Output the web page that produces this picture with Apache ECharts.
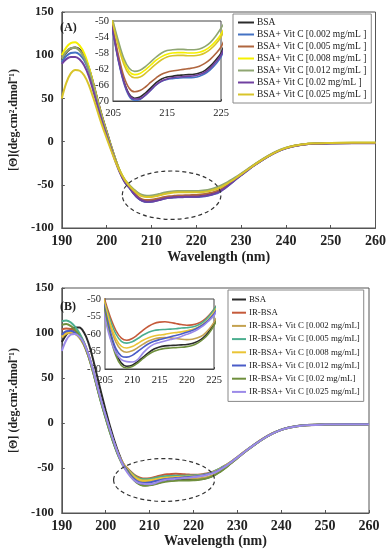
<!DOCTYPE html>
<html>
<head>
<meta charset="utf-8">
<script src="https://cdn.jsdelivr.net/npm/echarts@6/dist/echarts.min.js"></script>
<style>
html,body{margin:0;padding:0;background:#fff;}
#c{width:389px;height:550px;}
</style>
</head>
<body>
<div id="c"></div>
<script>
// Wavelength grid (nm)
const WL = [190,191,192,193,194,195,196,197,198,199,200,201,202,203,204,205,206,207,208,209,210,211,212,213,214,215,216,217,218,219,220,221,222,223,224,225,226,227,228,229,230,232,234,236,238,240,242,245,250,255,260];

// Panel A
const A_NAMES = ['BSA','BSA+ Vit C [0.002 mg/mL ]','BSA+ Vit C [0.005 mg/mL ]','BSA+ Vit C [0.008 mg/mL ]','BSA+ Vit C [0.012 mg/mL ]','BSA+ Vit C [0.02 mg/mL ]','BSA+ Vit C [0.025 mg/mL ]'];
const A_COLORS = ['#2b2b2b','#4472C4','#B0663F','#F5F000','#8FA672','#7040A0','#D8C42A'];
const A_BSA = [95,103,107.5,109,106.5,99,86,68,48,29,12,-5,-21,-35,-46,-52.5,-59.5,-65,-68.3,-69.3,-69,-68,-66.7,-65.4,-64.5,-64,-63.8,-63.6,-63.5,-63.4,-63.3,-63,-62.4,-61.3,-59.8,-58,-54.5,-50.5,-46.5,-42.3,-38.3,-30.5,-23.5,-17,-11.5,-7.5,-4.8,-2.6,-1.8,-1.5,-1.5];
const A_002 = [92,99,102.5,103,100.5,94,82,64.5,45.5,27.5,11,-6,-21.5,-35.5,-46.5,-53,-60,-65.5,-68.8,-69.8,-69.6,-68.6,-67.3,-66,-65.1,-64.6,-64.4,-64.3,-64.2,-64.2,-64.1,-63.8,-63.2,-62.2,-60.8,-59,-55.5,-51.5,-47.3,-43,-39,-31,-24,-17.5,-12,-7.8,-5,-2.8,-2,-1.7,-1.7];
const A_005 = [97,104,108,108.5,105.5,98,85,67,47,28,11,-6,-21.5,-35,-45.5,-52,-58.5,-63.8,-66.8,-67.7,-67.4,-66.5,-65.3,-64.2,-63.3,-62.8,-62.5,-62.3,-62.1,-61.9,-61.7,-61.3,-60.6,-59.6,-58.2,-56.5,-53.5,-50,-46.2,-42.2,-38.3,-30.6,-23.5,-17,-11.5,-7.5,-4.8,-2.7,-1.8,-1.5,-1.5];
const A_008 = [100,109,114,115,111,102,87,67,46.5,27.5,10.5,-6,-21,-34,-43.5,-50.3,-55.5,-60,-62.6,-63.4,-63.1,-62.2,-61,-59.8,-58.9,-58.3,-58,-57.9,-57.9,-58,-58,-57.8,-57.3,-56.4,-55.1,-53.3,-50.8,-48,-44.8,-41.3,-37.8,-30.3,-23.2,-16.8,-11.3,-7.3,-4.6,-2.5,-1.5,-1.2,-1.2];
const A_012 = [96,104,108,108.5,105,97,83.5,65,45,26.5,9.5,-6.5,-21.5,-34.5,-43.8,-50,-55,-59.3,-61.8,-62.6,-62.3,-61.4,-60.2,-59,-58,-57.4,-57.2,-57.1,-57.1,-57.2,-57.2,-57,-56.4,-55.4,-53.8,-51.8,-49.5,-46.8,-43.8,-40.5,-37,-29.8,-22.8,-16.5,-11.2,-7.2,-4.5,-2.4,-1.5,-1.2,-1.2];
const A_02  = [90,95.5,98,98,95,88,76,59,40.5,23,7,-8.5,-23.5,-36.5,-46.5,-52.8,-59.8,-65.2,-68.5,-69.5,-69.4,-68.5,-67.2,-65.9,-65,-64.5,-64.2,-64,-63.9,-63.8,-63.7,-63.4,-62.8,-61.8,-60.3,-58.5,-55.3,-51.3,-47.2,-43,-39,-31,-24,-17.5,-12,-7.8,-5,-2.8,-2,-1.8,-1.8];
const A_025 = [50,68,79,83,82,76.5,66,51,34.5,18.5,4,-10,-23.5,-35,-44,-50.8,-56.3,-60.8,-63.4,-64.2,-64,-63.1,-61.9,-60.7,-59.7,-59,-58.7,-58.6,-58.6,-58.7,-58.7,-58.5,-58,-57.1,-55.8,-54,-51.3,-48.4,-45.1,-41.6,-38,-30.5,-23.4,-17,-11.5,-7.4,-4.7,-2.6,-1.6,-1.3,-1.3];
const A_VALUES = [A_BSA,A_002,A_005,A_008,A_012,A_02,A_025];

// Panel B
const B_NAMES = ['BSA','IR-BSA','IR-BSA+ Vit C [0.002 mg/mL]','IR-BSA+ Vit C [0.005 mg/mL]','IR-BSA+ Vit C [0.008 mg/mL]','IR-BSA+ Vit C [0.012 mg/mL]','IR-BSA+ Vit C [0.02 mg/mL]','IR-BSA+ Vit C [0.025 mg/mL]'];
const B_COLORS = ['#2b2b2b','#C55A3A','#C4A250','#4BAE8F','#EAC435','#4A5CC8','#6F8F3D','#9B8AE8'];
const B_BSA = [90,98,103,106,106,101,90,73,53,33,14,-4,-20,-34,-45.5,-53,-60,-65.2,-68.3,-69.2,-68.9,-67.9,-66.6,-65.3,-64.3,-63.7,-63.4,-63.3,-63.2,-63.1,-63,-62.7,-62.1,-61.1,-59.4,-57,-54,-50.6,-46.8,-42.8,-38.8,-31,-23.8,-17.2,-11.7,-7.6,-4.9,-2.7,-1.9,-1.8,-1.8];
const B_IR  = [104,105,104.5,102.5,98,90,77.5,60.5,41.5,23,6,-10,-24.5,-36.5,-45,-50.5,-55.3,-59,-61.2,-61.8,-61.3,-60.2,-58.9,-57.8,-57,-56.6,-56.5,-56.7,-57,-57.3,-57.5,-57.4,-57,-56.2,-54.8,-52.9,-50.6,-47.8,-44.8,-41.4,-37.8,-30.4,-23.3,-16.9,-11.4,-7.4,-4.7,-2.5,-1.6,-1.4,-1.4];
const B_002 = [95,99,100,99,95,87,75,59,41,23,6.5,-9.5,-24,-36.5,-46,-52,-58,-62.3,-64.6,-65.2,-64.8,-63.9,-62.9,-62,-61.4,-61.1,-61,-61.1,-61.3,-61.5,-61.6,-61.5,-61.1,-60.3,-58.8,-56.7,-53.8,-50.5,-46.8,-42.8,-38.8,-31,-23.8,-17.2,-11.7,-7.6,-4.9,-2.7,-1.8,-1.6,-1.6];
const B_005 = [113,114,112,107,100,90,76.5,59.5,40.5,22,5,-11,-25.5,-37.5,-46,-51.3,-56.2,-60,-62.1,-62.6,-62.2,-61.3,-60.3,-59.5,-59,-58.8,-58.7,-58.6,-58.5,-58.3,-58.2,-58,-57.5,-56.6,-55.1,-53,-50.7,-48,-45,-41.6,-38,-30.6,-23.5,-17,-11.5,-7.5,-4.8,-2.6,-1.7,-1.5,-1.5];
const B_008 = [96,100,101,99.5,95,87.5,75.5,59.5,41.5,23.5,7,-9,-23.5,-36,-45.5,-51.5,-57.2,-61.3,-63.5,-64,-63.6,-62.7,-61.8,-61.1,-60.6,-60.3,-60.1,-59.8,-59.6,-59.4,-59.1,-58.7,-58.1,-57.2,-55.8,-53.8,-51.3,-48.4,-45.2,-41.7,-38.1,-30.7,-23.6,-17.1,-11.6,-7.5,-4.8,-2.6,-1.7,-1.5,-1.5];
const B_012 = [98,102,102.5,100.5,96,88.5,76.5,60.5,42,24,7.5,-8.5,-23.5,-36.5,-46.5,-53,-59.5,-64.2,-66.3,-66.6,-66.1,-65,-63.8,-62.8,-62.1,-61.6,-61.2,-60.8,-60.4,-60,-59.5,-59,-58.3,-57.3,-56,-54.3,-51.8,-48.8,-45.5,-42,-38.3,-30.8,-23.7,-17.1,-11.6,-7.5,-4.8,-2.6,-1.7,-1.5,-1.5];
const B_02  = [109,110,108,103.5,97,88,75,58.5,40,22,5.5,-10.5,-25,-38,-48,-54,-61,-66.2,-69,-69.7,-69.3,-68.3,-67,-65.8,-64.9,-64.4,-64.1,-64,-63.9,-63.8,-63.6,-63.3,-62.6,-61.5,-59.9,-57.6,-54.5,-51,-47.1,-43,-39,-31.2,-24,-17.4,-11.8,-7.7,-5,-2.8,-2,-1.9,-1.9];
const B_025 = [80,92,98,99,96,89,77,61,42.5,24.5,8,-8,-23,-36.5,-47.5,-55.5,-61.5,-65.3,-67.3,-67.9,-68,-67.3,-65.4,-63.9,-62.9,-62.4,-62,-61.6,-61.2,-60.7,-60.1,-59.5,-58.7,-57.7,-56.3,-54.7,-52.2,-49.2,-45.8,-42.2,-38.5,-30.9,-23.8,-17.2,-11.7,-7.6,-4.9,-2.7,-1.8,-1.6,-1.6];
const B_VALUES = [B_BSA,B_IR,B_002,B_005,B_008,B_012,B_02,B_025];

// Axis ticks
const MAIN_X = {min:190, max:260, step:10};
const MAIN_Y = {min:-100, max:150, step:50};
const INSET_A_X = {min:205, max:225, step:10};
const INSET_A_Y = {min:-70, max:-50, step:4};
const INSET_B_X = {min:205, max:225, step:5};
const INSET_B_Y = {min:-70, max:-50, step:5};

// Dashed ellipse annotations (data coords: centre and extents)
const ELL_A = {cx:214.5, cy:-62, x1:225.5, y1:-34};
const ELL_B = {cx:213.3, cy:-63.3, x1:224.8, y1:-39.5};

const SERIF = 'Liberation Serif';
const chart = echarts.init(document.getElementById('c'), null, {renderer:'canvas'});

function pairs(vals){ return WL.map((x,i)=>[x, vals[i]]); }
function mk(name,color,vals,idx,w){
  return {type:'line', name:name, xAxisIndex:idx, yAxisIndex:idx, data:pairs(vals),
    showSymbol:false, symbol:'none', smooth:0.35, clip:true, animation:false,
    lineStyle:{color:color, width:w}, itemStyle:{color:color}, z: idx>=2?5:2};
}
function mainX(gi, gap){
  return {gridIndex:gi, type:'value', min:MAIN_X.min, max:MAIN_X.max, interval:MAIN_X.step,
    axisLine:{onZero:false, lineStyle:{color:'#555', width:1}}, axisTick:{show:true, inside:true, length:3, lineStyle:{color:'#555'}},
    splitLine:{show:false},
    axisLabel:{color:'#222', fontFamily:SERIF, fontWeight:'bold', fontSize:14, margin:6},
    name:'Wavelength (nm)', nameLocation:'middle', nameGap:gap,
    nameTextStyle:{color:'#222', fontFamily:SERIF, fontWeight:'bold', fontSize:14}};
}
function mainY(gi, name){
  return {gridIndex:gi, type:'value', min:MAIN_Y.min, max:MAIN_Y.max, interval:MAIN_Y.step,
    axisLine:{show:true, onZero:false, lineStyle:{color:'#555', width:1}}, axisTick:{show:true, inside:true, length:3, lineStyle:{color:'#555'}},
    splitLine:{show:false},
    axisLabel:{color:'#222', fontFamily:SERIF, fontWeight:'bold', fontSize:12.5, margin:8},
    name:name, nameLocation:'middle', nameGap:30,
    nameTextStyle:{color:'#222', fontFamily:SERIF, fontWeight:'bold', fontSize:12}};
}
function insetX(gi, t, m){
  return {gridIndex:gi, type:'value', min:t.min, max:t.max, interval:t.step,
    axisLine:{onZero:false, lineStyle:{color:'#444'}}, axisTick:{show:true, inside:true, length:2, lineStyle:{color:'#444'}},
    splitLine:{show:false},
    axisLabel:{color:'#222', fontFamily:SERIF, fontSize:10.5, margin:m}};
}
function insetY(gi, t){
  return {gridIndex:gi, type:'value', min:t.min, max:t.max, interval:t.step,
    axisLine:{show:true, onZero:false, lineStyle:{color:'#444'}}, axisTick:{show:true, inside:true, length:2, lineStyle:{color:'#444'}},
    splitLine:{show:false},
    axisLabel:{color:'#222', fontFamily:SERIF, fontSize:10.5, margin:4}};
}

const series = [];
A_NAMES.forEach((n,i)=>series.push(mk(n, A_COLORS[i], A_VALUES[i], 0, 2)));
B_NAMES.forEach((n,i)=>series.push(mk(n, B_COLORS[i], B_VALUES[i], 1, 2)));
A_NAMES.forEach((n,i)=>series.push(mk(n, A_COLORS[i], A_VALUES[i], 2, 1.6)));
B_NAMES.forEach((n,i)=>series.push(mk(n, B_COLORS[i], B_VALUES[i], 3, 1.6)));

const legendBase = {orient:'vertical', icon:'rect', itemWidth:16, itemHeight:2, itemGap:1,
  borderColor:'#888', borderWidth:1, backgroundColor:'#fff', selectedMode:false,
  textStyle:{color:'#222', fontFamily:SERIF, fontSize:9.5, lineHeight:11, padding:[0,0,0,-2]}};

const option = {
  animation:false,
  backgroundColor:'#fff',
  grid:[
    {left:47, top:12, width:329, height:216, show:true, borderColor:'#555', borderWidth:1, backgroundColor:'transparent'},
    {left:47, top:288, width:322, height:225, show:true, borderColor:'#555', borderWidth:1, backgroundColor:'transparent'},
    {left:113, top:21, width:108, height:80, show:true, borderColor:'#444', borderWidth:1, backgroundColor:'#fff', z:3},
    {left:105, top:299, width:109, height:70, show:true, borderColor:'#444', borderWidth:1, backgroundColor:'#fff', z:3}
  ],
  xAxis:[mainX(0,22), mainX(1,20), insetX(2, INSET_A_X, 7), insetX(3, INSET_B_X, 6)],
  yAxis:[mainY(0,'[Θ](deg.cm².dmol⁻¹)'), mainY(1,'[Θ] (deg.cm².dmol⁻¹)'), insetY(2, INSET_A_Y), insetY(3, INSET_B_Y)],
  legend:[
    Object.assign({}, legendBase, {left:233, top:14, padding:[3,5,3,5], data:A_NAMES}),
    Object.assign({}, legendBase, {left:228, top:290, padding:[4,4,4,4], itemWidth:14, itemGap:2.2,
      textStyle:{color:'#222', fontFamily:SERIF, fontSize:8.8, lineHeight:11, padding:[0,0,0,-2]}, data:B_NAMES})
  ],
  series:series
};
chart.setOption(option);

function ell(e, gi){
  const c = chart.convertToPixel({xAxisIndex:gi, yAxisIndex:gi}, [e.cx, e.cy]);
  const p = chart.convertToPixel({xAxisIndex:gi, yAxisIndex:gi}, [e.x1, e.y1]);
  return {type:'ellipse', z:20, silent:true,
    shape:{cx:c[0], cy:c[1], rx:Math.abs(p[0]-c[0]), ry:Math.abs(c[1]-p[1])},
    style:{fill:null, stroke:'#333', lineWidth:1.2, lineDash:[4,3]}};
}
chart.setOption({graphic:[
  ell(ELL_A,0), ell(ELL_B,1),
  {type:'text', left:60, top:22, z:20, style:{text:'(A)', font:'bold 12px "Liberation Serif"', fill:'#222'}},
  {type:'text', left:60, top:301, z:20, style:{text:'(B)', font:'bold 12px "Liberation Serif"', fill:'#222'}}
]});
</script>
</body>
</html>
